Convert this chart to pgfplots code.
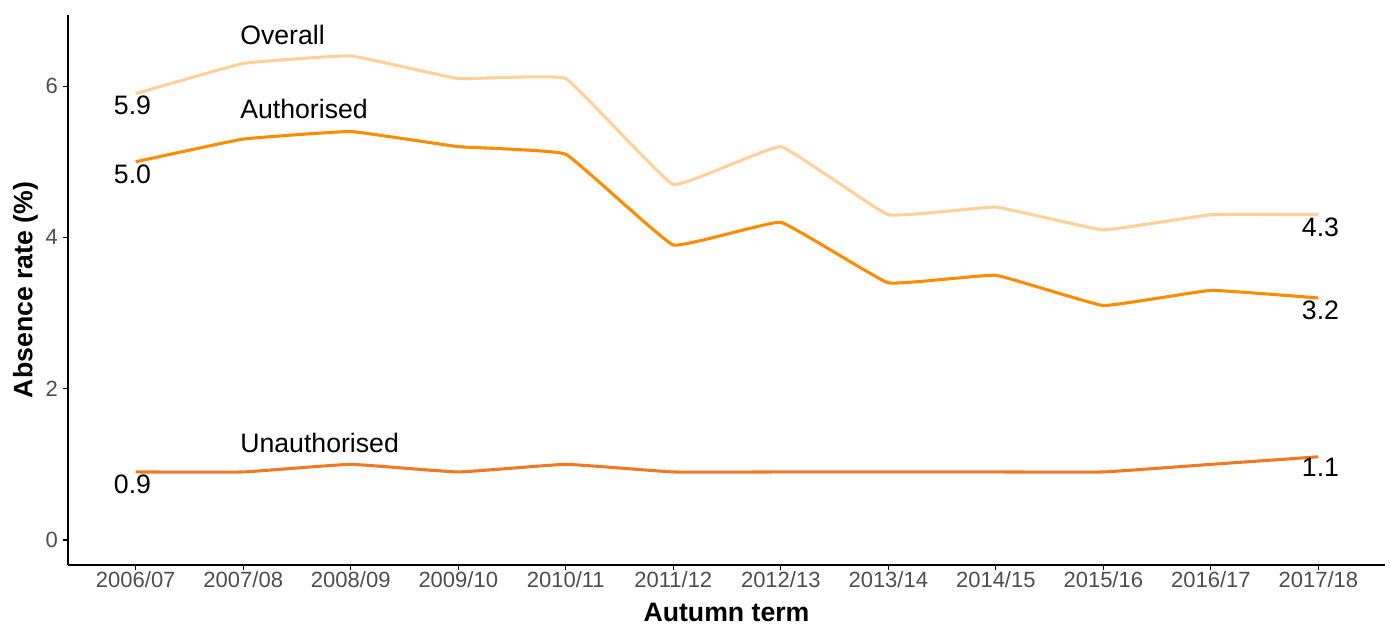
\documentclass[border=0pt]{standalone}
\usepackage{pgfplots}
\pgfplotsset{compat=1.18}
\usepackage{fontspec}
\setmainfont{Liberation Sans}
\definecolor{cOverall}{HTML}{FFD199}
\definecolor{cAuth}{HTML}{FF8C00}
\definecolor{cUnauth}{HTML}{F07A22}
\definecolor{tickgray}{HTML}{4D4D4D}
\begin{document}
\begin{tikzpicture}
\begin{axis}[
  scale only axis,
  width=987.75pt, height=412.5pt,
  xmin=-0.63, xmax=11.62,
  ymin=-0.33, ymax=6.94,
  axis x line*=bottom, axis y line*=left,
  axis line style={line width=1.2pt, black, -},
  xtick={0,...,11},
  xticklabels={2006/07,2007/08,2008/09,2009/10,2010/11,2011/12,2012/13,2013/14,2014/15,2015/16,2016/17,2017/18},
  ytick={0,2,4,6},
  tick align=outside,
  major tick length=4pt,
  tick style={line width=0.9pt, black},
  tick label style={font=\fontsize{16.5}{18}\selectfont, text=tickgray},
  xticklabel style={yshift=2.5pt},
  /pgf/number format/assume math mode=true,
  xlabel={\textbf{Autumn term}},
  ylabel={\textbf{Absence rate (\%)}},
  label style={font=\fontsize{20}{22}\selectfont},
  xlabel style={yshift=-4.5pt},
  ylabel style={yshift=-1pt},
  clip=false,
]
\addplot[cOverall, line width=2.3pt, smooth, tension=0.15] coordinates {
(0,5.9)(1,6.3)(2,6.4)(3,6.1)(4,6.1)(5,4.7)(6,5.2)(7,4.3)(8,4.4)(9,4.1)(10,4.3)(11,4.3)};
\addplot[cAuth, line width=2.3pt, smooth, tension=0.15] coordinates {
(0,5.0)(1,5.3)(2,5.4)(3,5.2)(4,5.1)(5,3.9)(6,4.2)(7,3.4)(8,3.5)(9,3.1)(10,3.3)(11,3.2)};
\addplot[cUnauth, line width=2.3pt, smooth, tension=0.2] coordinates {
(0,0.9)(1,0.9)(2,1.0)(3,0.9)(4,1.0)(5,0.9)(6,0.9)(7,0.9)(8,0.9)(9,0.9)(10,1.0)(11,1.1)};
\begin{scope}[every node/.style={font=\fontsize{20}{22}\selectfont, inner sep=0pt}]
\node[anchor=west] at (axis cs:0.97,6.67) {Overall};
\node[anchor=west] at (axis cs:0.97,5.70) {Authorised};
\node[anchor=west] at (axis cs:0.97,1.28) {Unauthorised};
\node at (axis cs:-0.03,5.75) {5.9};
\node at (axis cs:-0.03,4.84) {5.0};
\node at (axis cs:-0.03,0.74) {0.9};
\node at (axis cs:11.02,4.14) {4.3};
\node at (axis cs:11.02,3.04) {3.2};
\node at (axis cs:11.02,0.96) {1.1};
\end{scope}
\end{axis}
\pgfresetboundingbox
\useasboundingbox (-51pt,-45pt) rectangle (991.5pt,423.75pt);
\end{tikzpicture}
\end{document}
